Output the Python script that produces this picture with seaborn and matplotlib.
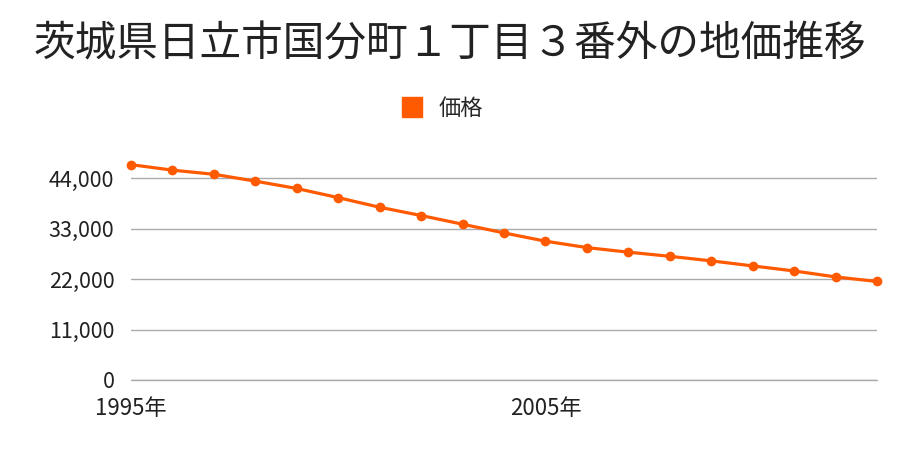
import matplotlib
matplotlib.use("Agg")
import matplotlib.pyplot as plt
import seaborn as sns
import pandas as pd
from matplotlib.ticker import FuncFormatter

# Data
years = list(range(1995, 2014))
prices = [47000, 45800, 44900, 43400, 41800, 39800, 37700, 35900, 34000, 32100,
          30300, 28900, 27900, 27000, 26000, 24900, 23800, 22500, 21500]
y_ticks = [0, 11000, 22000, 33000, 44000]
x_ticks = [1995, 2005]
x_labels = ["1995年", "2005年"]
title = "茨城県日立市国分町１丁目３番外の地価推移"
series_name = "価格"

LINE_COLOR = "#ff5a00"
GRID_COLOR = "#aaaaaa"

sns.set_style("white")
plt.rcParams['font.family'] = ['Noto Sans CJK JP', 'DejaVu Sans']

df = pd.DataFrame({"year": years, "price": prices})

fig = plt.figure(figsize=(9, 4.5), dpi=100)
ax = fig.add_axes([131 / 900, 70 / 450, (877 - 131) / 900, 252 / 450])

sns.lineplot(data=df, x="year", y="price", ax=ax, color=LINE_COLOR, linewidth=2.3,
             marker="o", markersize=7, markeredgewidth=0, label=series_name,
             legend=False, clip_on=False, zorder=3)

ax.set_xlim(1995, 2013)
ax.set_ylim(0, 55000)
ax.set_yticks(y_ticks)
ax.yaxis.set_major_formatter(FuncFormatter(lambda v, p: f"{int(v):,}"))
ax.set_xticks(x_ticks)
ax.set_xticklabels(x_labels)
ax.tick_params(axis="both", length=0, colors="#222222")
ax.tick_params(axis="y", pad=12, labelsize=15.5)
ax.tick_params(axis="x", pad=12, labelsize=16)
ax.grid(axis="y", color=GRID_COLOR, linewidth=1)
ax.grid(axis="x", visible=False)
ax.axhline(0, color=GRID_COLOR, linewidth=1, clip_on=False, zorder=1)
for s in ax.spines.values():
    s.set_visible(False)
ax.set_xlabel("")
ax.set_ylabel("")

fig.text(0.5, 0.9, title, ha="center", va="center", fontsize=30, color="#222222")

handle = plt.Line2D([], [], marker="s", linestyle="none", markersize=14,
                    color=LINE_COLOR)
fig.legend([handle], [series_name], loc="center", bbox_to_anchor=(0.485, 0.76),
           frameon=False, fontsize=16, handletextpad=0.2)

fig.savefig("out.png", dpi=100)
